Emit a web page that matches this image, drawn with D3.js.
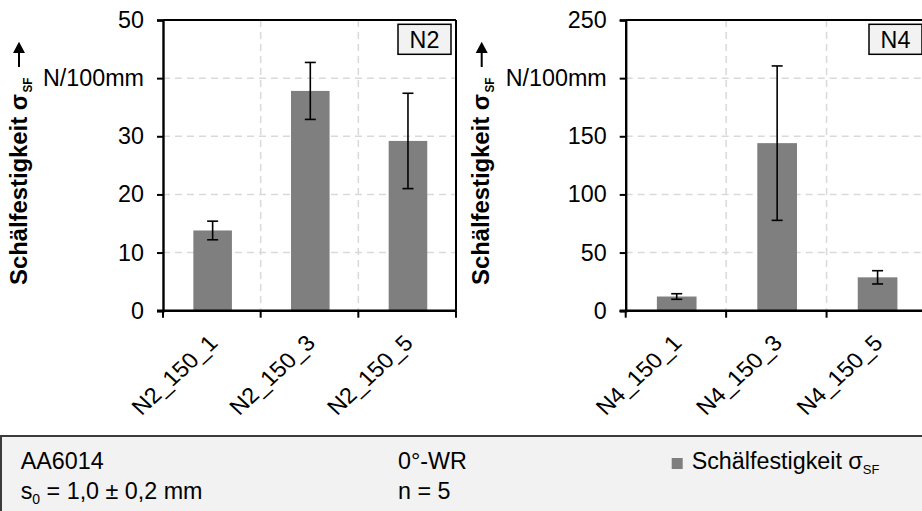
<!DOCTYPE html>
<html>
<head>
<meta charset="utf-8">
<script src="https://cdn.jsdelivr.net/npm/d3@7"></script>
<style>
  html, body { margin: 0; padding: 0; background: #ffffff; }
  svg { display: block; }
  text { font-family: "Liberation Sans", Arial, sans-serif; fill: #000; }
</style>
</head>
<body>
<svg id="chart" width="922" height="511"></svg>
<script>
// Peel strength per specimen (mean and standard deviation), series N2 and N4
const catsN2 = ["N2_150_1", "N2_150_3", "N2_150_5"];
const meanN2 = [13.8, 37.8, 29.2];
const sdN2   = [1.6, 4.9, 8.2];

const catsN4 = ["N4_150_1", "N4_150_3", "N4_150_5"];
const meanN4 = [12.2, 144.1, 28.7];
const sdN4   = [2.4, 66.4, 5.7];

const ticksN2 = [0, 10, 20, 30, 40, 50];
const ticksN4 = [0, 50, 100, 150, 200, 250];
const unitLabel = "N/100mm";
const axisTitle = "Schälfestigkeit σ";
const axisTitleSub = "SF";

const infoLeft  = ["AA6014", "s"];
const infoMid   = ["0°-WR", "n = 5"];
const legendText = "Schälfestigkeit σ";

const svg = d3.select("#chart");
const BAR = "#7f7f7f";
const GRID = "#d9d9d9";
const FS = 23.3;      // main text size
const SUB = 13;       // subscript size

const panels = [
  { tag: "N2", cats: catsN2, mean: meanN2, sd: sdN2, ticks: ticksN2, unitAt: 40,
    x0: 163, x1: 456, titleX: 26.5 },
  { tag: "N4", cats: catsN4, mean: meanN4, sd: sdN4, ticks: ticksN4, unitAt: 200,
    x0: 625.7, x1: 927, titleX: 489.2 }
];
const yTop = 20, yBottom = 310.7;

panels.forEach(p => {
  const g = svg.append("g");
  const x = d3.scaleBand().domain(p.cats).range([p.x0, p.x1]);
  const y = d3.scaleLinear().domain([0, d3.max(p.ticks)]).range([yBottom, yTop]);
  const bw = x.bandwidth() * 0.395;

  // dashed grid: horizontal at inner ticks, vertical at category boundaries
  g.selectAll(".hgrid").data(p.ticks.slice(1, -1)).join("line")
    .attr("x1", p.x0).attr("x2", p.x1)
    .attr("y1", d => y(d)).attr("y2", d => y(d))
    .attr("stroke", GRID).attr("stroke-width", 1.5).attr("stroke-dasharray", "7,5");
  g.selectAll(".vgrid").data(p.cats.slice(1)).join("line")
    .attr("x1", d => x(d)).attr("x2", d => x(d))
    .attr("y1", yTop).attr("y2", yBottom)
    .attr("stroke", GRID).attr("stroke-width", 1.5).attr("stroke-dasharray", "7,5");

  // bars
  g.selectAll(".bar").data(p.cats).join("rect")
    .attr("x", d => x(d) + x.bandwidth() / 2 - bw / 2 + 0.8)
    .attr("width", bw)
    .attr("y", (d, i) => y(p.mean[i]))
    .attr("height", (d, i) => yBottom - y(p.mean[i]))
    .attr("fill", BAR);

  // error bars
  const eb = g.selectAll(".err").data(p.cats).join("g")
    .attr("transform", d => `translate(${x(d) + x.bandwidth() / 2 + 0.8},0)`);
  eb.append("line")
    .attr("y1", (d, i) => y(p.mean[i] + p.sd[i]))
    .attr("y2", (d, i) => y(p.mean[i] - p.sd[i]))
    .attr("stroke", "#000").attr("stroke-width", 1.6);
  [1, -1].forEach(s => {
    eb.append("line")
      .attr("x1", -5.5).attr("x2", 5.5)
      .attr("y1", (d, i) => y(p.mean[i] + s * p.sd[i]))
      .attr("y2", (d, i) => y(p.mean[i] + s * p.sd[i]))
      .attr("stroke", "#000").attr("stroke-width", 1.6);
  });

  // frame (top and right)
  g.append("line").attr("x1", p.x0).attr("x2", p.x1).attr("y1", yTop).attr("y2", yTop)
    .attr("stroke", "#000").attr("stroke-width", 2);
  g.append("line").attr("x1", p.x1).attr("x2", p.x1).attr("y1", yTop).attr("y2", yBottom)
    .attr("stroke", "#000").attr("stroke-width", 2);

  // y axis
  const yAxis = d3.axisLeft(y).tickValues(p.ticks).tickSize(6).tickPadding(13)
    .tickFormat(d => d === p.unitAt ? unitLabel : d);
  const ya = g.append("g").attr("transform", `translate(${p.x0},0)`).call(yAxis);
  ya.select(".domain").attr("stroke", "#000").attr("stroke-width", 2.4);
  ya.selectAll(".tick line").attr("stroke", "#000").attr("stroke-width", 2);
  ya.selectAll(".tick text").attr("font-size", FS)
    .attr("font-family", '"Liberation Sans", Arial, sans-serif').attr("fill", "#000");

  // x axis with ticks at category boundaries
  const bounds = p.cats.map(c => x(c)).concat([p.x1]);
  g.append("line").attr("x1", p.x0 - 6).attr("x2", p.x1).attr("y1", yBottom).attr("y2", yBottom)
    .attr("stroke", "#000").attr("stroke-width", 2.6);
  g.selectAll(".xt").data(bounds).join("line")
    .attr("x1", d => d).attr("x2", d => d)
    .attr("y1", yBottom).attr("y2", yBottom + 7)
    .attr("stroke", "#000").attr("stroke-width", 2);
  g.selectAll(".xl").data(p.cats).join("text")
    .attr("transform", d => `translate(${x(d) + x.bandwidth() / 2 + 7.2},${yBottom + 33.7}) scale(1.08,1) rotate(-45)`)
    .attr("text-anchor", "end")
    .attr("font-size", 22)
    .text(d => d);

  // panel tag box
  const tagG = g.append("g");
  tagG.append("rect").attr("x", p.x1 - 58).attr("y", 24.3)
    .attr("width", 53).attr("height", 30)
    .attr("fill", "#f2f2f2").attr("stroke", "#000").attr("stroke-width", 1.5);
  tagG.append("text").attr("x", p.x1 - 31.5).attr("y", 48)
    .attr("text-anchor", "middle").attr("font-size", FS).text(p.tag);

  // rotated axis title with subscript and arrow
  g.append("text")
    .attr("transform", `translate(${p.titleX},285) rotate(-90)`)
    .attr("font-size", 23.3).attr("font-weight", "bold")
    .attr("textLength", 191).attr("lengthAdjust", "spacingAndGlyphs")
    .text(axisTitle);
  g.append("text")
    .attr("transform", `translate(${p.titleX + 5},92.5) rotate(-90)`)
    .attr("font-size", 13).attr("font-weight", "bold")
    .attr("textLength", 15).attr("lengthAdjust", "spacingAndGlyphs")
    .text(axisTitleSub);
  const ax = p.titleX - 7.5;
  g.append("line").attr("x1", ax).attr("x2", ax).attr("y1", 67).attr("y2", 50)
    .attr("stroke", "#000").attr("stroke-width", 2);
  g.append("path")
    .attr("d", `M${ax},41.7 L${ax - 6},53 L${ax + 6},53 Z`)
    .attr("fill", "#000");
});

// info box at the bottom
const info = svg.append("g");
info.append("rect").attr("x", 1).attr("y", 436).attr("width", 930).attr("height", 90)
  .attr("fill", "#f2f2f2").attr("stroke", "#3a3a3a").attr("stroke-width", 2);
info.append("text").attr("x", 20.7).attr("y", 469).attr("font-size", FS).text(infoLeft[0]);
const sLine = info.append("text").attr("x", 20.7).attr("y", 499).attr("font-size", FS);
sLine.append("tspan").text(infoLeft[1]);
sLine.append("tspan").attr("font-size", SUB + 1).attr("dy", 5).text("0");
sLine.append("tspan").attr("dy", -5).text(" = 1,0 ± 0,2 mm");
info.append("text").attr("x", 398).attr("y", 469).attr("font-size", FS).text(infoMid[0]);
info.append("text").attr("x", 398).attr("y", 499).attr("font-size", FS).text(infoMid[1]);
info.append("rect").attr("x", 671.7).attr("y", 458).attr("width", 11).attr("height", 11).attr("fill", BAR);
const lg = info.append("text").attr("x", 691.7).attr("y", 469).attr("font-size", FS);
lg.append("tspan").text(legendText);
lg.append("tspan").attr("font-size", SUB).attr("dy", 5).text(axisTitleSub);
</script>
</body>
</html>
